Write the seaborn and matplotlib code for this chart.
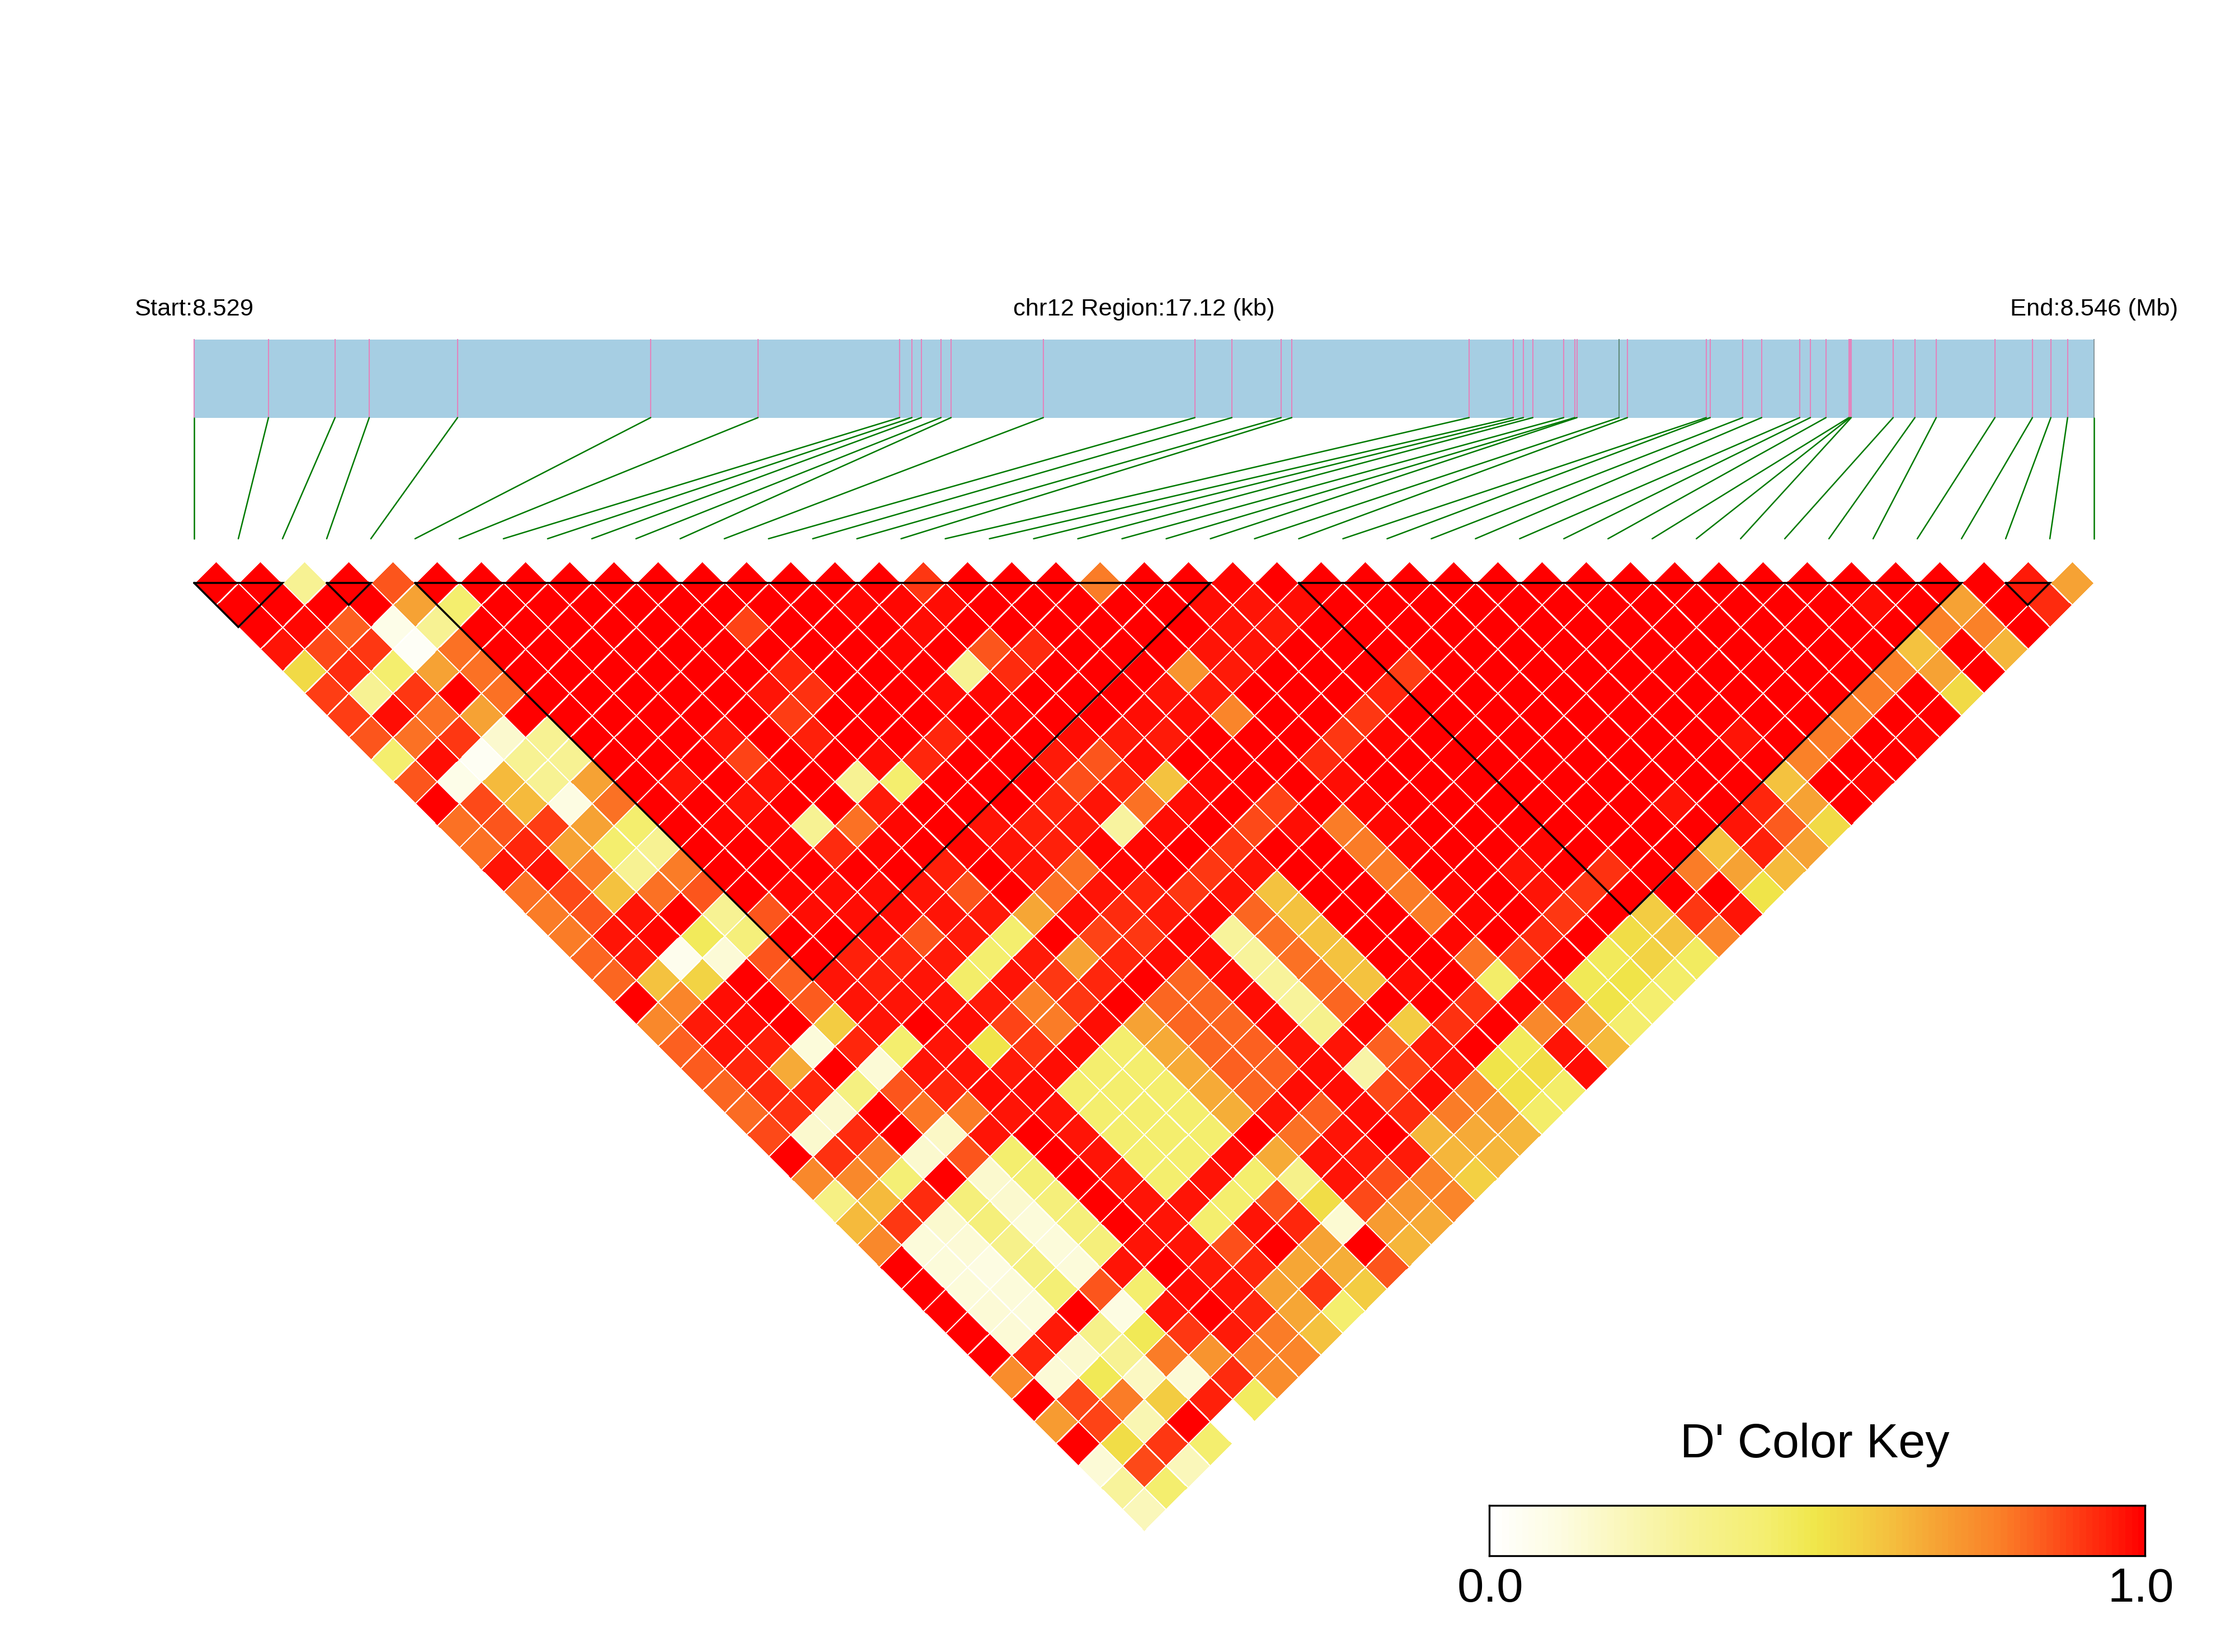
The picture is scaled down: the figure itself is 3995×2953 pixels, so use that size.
import numpy as np
import matplotlib
matplotlib.use("Agg")
import matplotlib.pyplot as plt
from matplotlib.colors import LinearSegmentedColormap
from matplotlib.patches import Rectangle
from matplotlib.transforms import Affine2D
import seaborn as sns

# D' values, one list per distance between SNP pairs
d00 = [1,1,.3,1,.85,1,1,1,1,1,1,1,1,1,1,1,.9,1,1,1,.78,1,1,.98,1,.99,1,1,1,1,1,1,1,1,1,1,1,1,1,1,1,.95,.68]
d01 = [1,1,1,1,.68,.42,1,1,1,1,1,1,.99,1,.98,.98,.97,1,1,1,1,.99,.97,.96,.97,1,1,1,1,1,1,1,1,1,1,1,1,.97,1,.68,1,.92]
d02 = [1,.98,.83,.08,.3,1,1,1,1,1,1,.88,1,1,1,.97,1,1,1,1,1,1,.96,.95,1,1,1,1,1,1,1,1,1,1,1,1,1,1,.77,.77,1]
d03 = [.96,.87,.9,.03,.8,1,1,1,1,1,1,1,1,1,.98,1,.85,.92,1,1,1,.96,.96,1,1,1,1,1,1,1,1,1,1,1,1,1,1,.6,1,.63]
d04 = [.53,.92,.42,.68,.8,1,1,1,1,1,1,.93,1,1,1,.3,.92,1,1,1,.72,.95,1,1,1,.89,1,1,1,1,1,1,1,1,1,1,.77,.68,1]
d05 = [.89,.3,.9,1,.8,1,1,1,1,1,.96,.91,1,1,.97,.98,1,1,.99,.96,.95,1,1,1,.93,1,1,1,1,1,1,1,1,1,1,.78,1,.53]
d06 = [.89,.97,.8,.68,1,1,1,1,1,1,.89,1,1,1,1,.98,1,1,.97,.97,.76,1,1,.9,1,1,1,1,1,1,1,1,1,1,.77,1,.99]
d07 = [.85,.8,.9,.15,.3,1,1,1,.96,1,.94,1,1,.93,1,1,.97,.95,.95,1,1,1,.9,.98,1,1,1,1,1,1,1,.96,1,.78,1,.98]
d08 = [.42,.97,.04,.3,.3,1,1,1,.88,1,1,.97,.93,1,1,.95,.85,.97,1,1,1,.92,1,1,1,1,1,1,1,1,1,1,.77,1,.99]
d09 = [.85,.08,.62,.3,.68,1,.96,1,.96,1,.3,.42,1,1,1,.86,.93,.6,.98,1,1,.97,1,1,1,1,1,1,1,1,1,.6,1,.98]
d10 = [1,.87,.62,.1,.8,1,1,.96,1,1,.95,1,1,1,.93,.96,.8,.97,1,.88,1,.98,1,1,1,1,1,1,.96,1,.93,.68,1]
d11 = [.8,.85,.89,.68,.42,1,.98,.98,.3,.8,.98,1,.96,.94,.95,.27,.97,1,.87,.97,.78,.98,1,1,1,.99,1,1,1,.96,.84,.53]
d12 = [.8,.93,.68,.42,.3,1,1,.98,.92,.98,1,.98,.96,.94,.98,.98,1,.9,1,1,.78,.98,1,1,.98,1,1,1,.6,.94,.68]
d13 = [.96,.96,.78,.3,.78,1,1,1,1,1,.94,1,.96,.8,.98,1,.9,.96,1,1,.78,1,1,.96,1,.91,1,.78,.68,.62]
d14 = [.8,.87,.6,.8,.85,1,.98,.97,.97,.96,.85,1,.8,.96,.93,.9,.96,.6,1,1,.78,.98,1,.96,.9,1,1,1,.5]
d15 = [.78,.85,.96,1,.3,.85,.97,.97,.97,.96,.95,.67,.97,.92,.95,.98,.82,.6,1,1,.78,.98,1,.9,1,.58,.9,.96]
d16 = [.78,.96,.98,.46,.38,1,1,.97,.85,.95,.42,1,.88,.9,.98,.28,.8,.6,1,1,.98,1,.92,1,.52,.6,.76]
d17 = [.82,.95,.06,.13,.85,1,.94,.93,.95,.42,.95,.68,.93,.97,.97,.28,.8,.6,1,1,.8,.88,1,.46,.55,.45]
d18 = [.82,.6,.55,1,.83,.96,.94,.96,.43,.96,.9,.93,1,.82,.97,.28,.8,.6,.97,1,.43,.98,.47,.5,.43]
d19 = [1,.76,.97,1,.84,.96,.96,.96,.95,.77,.9,1,.82,.82,.97,.28,.82,1,1,.9,.98,.88,.5,.42]
d20 = [.75,.95,.97,1,.58,.96,1,.97,.88,.78,.97,.68,.82,.82,.97,.32,.98,.58,.91,1,.75,.68,.42]
d21 = [.83,.96,.94,.12,.93,.42,.96,.5,.9,.97,.42,.66,.82,.83,.96,.96,.83,.95,1,.46,.96,.62]
d22 = [.84,.93,.66,1,.13,.96,.96,.95,.97,.42,.42,.66,.83,.83,.97,.25,.88,.96,.5,.52,.97]
d23 = [.82,.92,.93,.36,.85,.93,.97,.97,.42,.42,.42,.66,.82,.97,.97,.87,.97,.77,.51,.43]
d24 = [.81,.91,.15,1,.79,.78,.96,.96,.42,.42,.42,.65,.96,.83,.97,.92,.78,.7,.43]
d25 = [.87,.15,.92,1,.17,.96,1,.96,.42,.42,.42,1,.8,.96,1,.63,.66,.63]
d26 = [1,.91,.78,.15,.85,.42,1,.96,.42,.42,.97,.66,.96,.95,.95,.63,.63]
d27 = [.75,.75,.4,1,.15,.4,1,.95,.42,.96,.42,.33,.96,.86,.77,.57]
d28 = [.35,.62,.92,.38,.15,.38,1,.96,.96,.42,.85,.52,.87,.72,.76]
d29 = [.62,.9,.15,.38,.12,.38,1,.96,.42,.96,.93,.14,.7,.66]
d30 = [.75,.12,.13,.33,.12,.38,.96,.96,.86,1,.68,1,.63]
d31 = [1,.12,.1,.36,.12,.96,1,.95,.93,.67,.65,.85]
d32 = [1,.12,.12,.4,.85,.42,.97,.96,.68,.9,.58]
d33 = [1,.13,.12,1,.1,.96,1,.93,.67,.42]
d34 = [1,.13,.95,.33,.47,.9,.95,.78,.6]
d35 = [1,.93,.15,.3,.78,.72,.78,.76]
d36 = [.74,.13,.47,.18,.13,.92,.74]
d37 = [1,.87,.78,.58,.94,.45]
d38 = [.7,.88,.22,1,0]
d39 = [1,.52,.9,.42]
d40 = [.13,.87,.2]
d41 = [.28,.42]
d42 = [.2]
diagonals = [d00,d01,d02,d03,d04,d05,d06,d07,d08,d09,d10,d11,d12,d13,d14,d15,d16,d17,d18,d19,d20,
             d21,d22,d23,d24,d25,d26,d27,d28,d29,d30,d31,d32,d33,d34,d35,d36,d37,d38,d39,d40,d41,d42]

# SNP positions along the region, kb from the start
snp_kb = [0,.670,1.270,1.578,2.374,4.114,5.081,6.357,6.468,6.553,6.730,6.821,7.652,9.018,9.351,9.795,
          9.891,11.489,11.887,11.978,12.063,12.341,12.441,12.461,12.840,12.915,13.626,13.661,13.954,
          14.125,14.468,14.564,14.705,14.911,14.922,14.932,15.310,15.506,15.698,16.227,16.565,16.731,
          16.882,17.12]
region_kb = 17.12

# LD blocks as (first SNP, last SNP)
blocks = [(0, 2), (3, 4), (5, 23), (25, 40), (41, 42)]

start_label = "Start:8.529"
middle_label = "chr12 Region:17.12 (kb)"
end_label = "End:8.546 (Mb)"
key_title = "D' Color Key"
key_ticks = ["0.0", "1.0"]

sns.set_theme(style="white")
plt.rcParams["font.family"] = ["Liberation Sans", "DejaVu Sans"]

W, H = 3995, 2953
fig = plt.figure(figsize=(W / 300, H / 300), dpi=300, facecolor="white")
ax = fig.add_axes([0, 0, 1, 1])

cmap = LinearSegmentedColormap.from_list("dprime", [
    (0, "#ffffff"), (.1, "#fdfce2"), (.3, "#f7f294"), (.42, "#f4ee70"), (.5, "#f0e64a"),
    (.6, "#f4c440"), (.68, "#f6a535"), (.78, "#fa8028"), (.85, "#fc5a1e"), (.9, "#fe3c14"),
    (.96, "#ff1a08"), (1, "#ff0000")], N=100)

n = len(diagonals)
M = np.full((n, n), np.nan)
for depth, values in enumerate(diagonals):
    for k, v in enumerate(values):
        M[k, k + depth] = v

sns.heatmap(M, mask=np.isnan(M), cmap=cmap, vmin=0, vmax=1, linewidths=0.3, linecolor="white",
            cbar=False, xticklabels=False, yticklabels=False, ax=ax)

X0, X1 = 347.0, 3743.0
Y0 = 1042.0
HX = (X1 - X0) / n / 2
HY = 39.44
rot = Affine2D.from_values(HX, HY, HX, -HY, X0, Y0)
ax.collections[0].set_transform(rot + ax.transData)

ax.set_xlim(0, W)
ax.set_ylim(H, 0)
ax.axis("off")

for a, b in blocks:
    ax.plot([a, b, b, a], [a, b, a, a], color="black", lw=0.85, solid_joinstyle="miter",
            transform=rot + ax.transData, zorder=5)

# gene track
kb_to_px = Affine2D().scale((X1 - X0) / region_kb, 1).translate(X0, 0) + ax.transData
BAR_TOP, BAR_BOTTOM, LINK_END = 607.0, 746.5, 963.0
ax.add_patch(Rectangle((0, BAR_TOP), region_kb, BAR_BOTTOM - BAR_TOP, facecolor="#a6cee3",
                       edgecolor="none", transform=kb_to_px, zorder=1))
tick_colors = ["#e285bd"] * len(snp_kb)
tick_colors[24] = "#5f8a7a"
tick_colors[43] = "#8a9aa0"
ax.vlines(snp_kb, BAR_TOP - 1, BAR_BOTTOM, colors=tick_colors, lw=0.5, transform=kb_to_px, zorder=2)
for i, kb in enumerate(snp_kb):
    top = X0 + kb / region_kb * (X1 - X0)
    ax.plot([top, X0 + i * 2 * HX], [BAR_BOTTOM, LINK_END], color="#007a00", lw=0.6, zorder=2)

ax.text(X0, 553, start_label, ha="center", va="center", fontsize=10.45, color="black")
ax.text((X0 + X1) / 2, 553, middle_label, ha="center", va="center", fontsize=10.45, color="black")
ax.text(X1, 553, end_label, ha="center", va="center", fontsize=10.45, color="black")

# colour key
KX0, KX1, KY0, KY1 = 2662, 3834, 2691, 2781
kax = fig.add_axes([KX0 / W, 1 - KY1 / H, (KX1 - KX0) / W, (KY1 - KY0) / H])
sns.heatmap(np.linspace(0, 1, 100).reshape(1, -1), cmap=cmap, vmin=0, vmax=1, cbar=False,
            xticklabels=False, yticklabels=False, ax=kax)
for s in kax.spines.values():
    s.set_visible(True)
    s.set_color("black")
    s.set_linewidth(0.8)

ax.text(3244, 2583, key_title, ha="center", va="center", fontsize=20.7, color="black")
ax.text(2664, 2841, key_ticks[0], ha="center", va="center", fontsize=20.5, color="black")
ax.text(3827, 2841, key_ticks[1], ha="center", va="center", fontsize=20.5, color="black")

fig.savefig("out.png", dpi=300, facecolor="white")
